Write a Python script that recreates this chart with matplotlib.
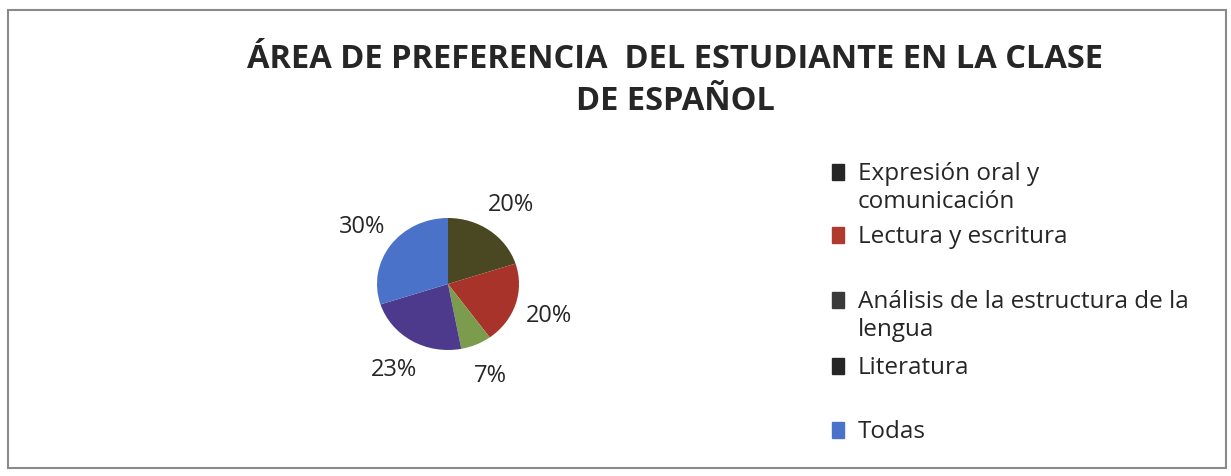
import matplotlib
matplotlib.use("Agg")
import matplotlib.pyplot as plt
from matplotlib.patches import Rectangle

categories = ["Expresión oral y\ncomunicación", "Lectura y escritura",
              "Análisis de la estructura de la\nlengua", "Literatura", "Todas"]
values = [20, 20, 7, 23, 30]
pct_labels = ["20%", "20%", "7%", "23%", "30%"]
slice_colors = ["#4a4822", "#a8332a", "#7b9c4c", "#4d3a8c", "#4a72c8"]
legend_colors = ["#262626", "#b03a2e", "#3a3a3a", "#262626", "#4a72c8"]

W, H = 1231, 477
fig = plt.figure(figsize=(W / 100, H / 100), dpi=100)
fig.patch.set_facecolor("white")

# frame
fig.add_artist(Rectangle((8 / W, 8 / H), (1218) / W, (458) / H, transform=fig.transFigure,
                         fill=False, edgecolor="#8a8a8a", lw=1.5))

font = "Open Sans"
fig.text(675 / W, 1 - 59 / H, "ÁREA DE PREFERENCIA  DEL ESTUDIANTE EN LA CLASE",
         ha="center", va="center", fontsize=23.5, fontweight="bold", family=font, color="#262626")
fig.text(675 / W, 1 - 102 / H, "DE ESPAÑOL",
         ha="center", va="center", fontsize=23.5, fontweight="bold", family=font, color="#262626")

cx, cy, rx, ry = 448, 285, 71, 66
ax = fig.add_axes([(cx - 1.25 * rx) / W, (H - cy - 1.25 * ry) / H, 2.5 * rx / W, 2.5 * ry / H])
wedges, texts, autotexts = ax.pie(values, colors=slice_colors, startangle=90, counterclock=False,
                                  autopct="%1.0f%%", pctdistance=1.5,
                                  textprops=dict(fontsize=17, family=font, color="#262626"),
                                  wedgeprops=dict(linewidth=0))
for t, lab in zip(autotexts, pct_labels):
    t.set_text(lab)
ax.set_aspect("auto")
ax.set_xlim(-1.25, 1.25)
ax.set_ylim(-1.25, 1.25)
ax.axis("off")

# legend
ys = [170, 233, 298, 364, 428]
for cat, col, y in zip(categories, legend_colors, ys):
    fig.add_artist(Rectangle((832 / W, 1 - (y + 11) / H), 12 / W, 16 / H,
                             transform=fig.transFigure, color=col))
    fig.text(858 / W, 1 - (y - 8) / H, cat, ha="left", va="top", fontsize=17.5,
             family=font, color="#262626", linespacing=1.2)

fig.savefig("out.png", dpi=100, facecolor="white")
